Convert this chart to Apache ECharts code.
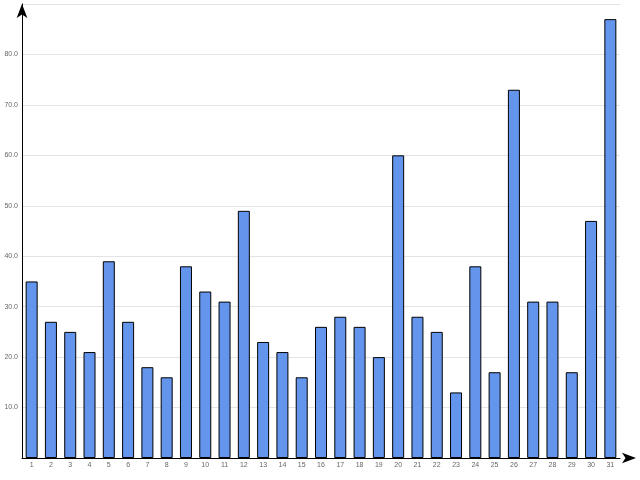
<!DOCTYPE html>
<html>
<head>
<meta charset="utf-8">
<script src="https://cdn.jsdelivr.net/npm/echarts@6/dist/echarts.min.js"></script>
<style>html,body{margin:0;padding:0;background:#fff}#chart{width:640px;height:480px}</style>
</head>
<body>
<div id="chart"></div>
<script>
const categories = Array.from({ length: 31 }, (_, i) => String(i + 1));
const values = [35, 27, 25, 21, 39, 27, 18, 16, 38, 33, 31, 49, 23, 21, 16, 26, 28, 26, 20, 60, 28, 25, 13, 38, 17, 73, 31, 31, 17, 47, 87];

const chart = echarts.init(document.getElementById('chart'));
chart.setOption({
    animation: false,
    grid: { left: 22, right: 20, top: 4, bottom: 22 },
    xAxis: {
        type: 'category',
        data: categories,
        axisLine: { lineStyle: { color: '#000' }, symbol: ['none', 'arrow'], symbolSize: [8, 14], symbolOffset: [0, 16] },
        axisTick: { show: false },
        axisLabel: { color: '#666', fontSize: 7, margin: 4, interval: 0 }
    },
    yAxis: {
        type: 'value',
        min: 0, max: 90, interval: 10,
        axisLine: { show: true, lineStyle: { color: '#000' }, symbol: ['none', 'arrow'], symbolSize: [8, 14] },
        axisTick: { show: false },
        splitLine: { lineStyle: { color: '#e4e4e4' } },
        axisLabel: { color: '#666', fontSize: 7, margin: 4, formatter: v => (v === 0 || v === 90) ? '' : v.toFixed(1) }
    },
    series: [{
        type: 'bar',
        data: values,
        barWidth: 12,
        itemStyle: {
            borderColor: '#000',
            borderWidth: 1,
            color: new echarts.graphic.LinearGradient(0, 0, 0, 1, [
                { offset: 0, color: '#add8e6' },
                { offset: 1, color: '#6495ed' }
            ], true)
        }
    }]
});
</script>
</body>
</html>
